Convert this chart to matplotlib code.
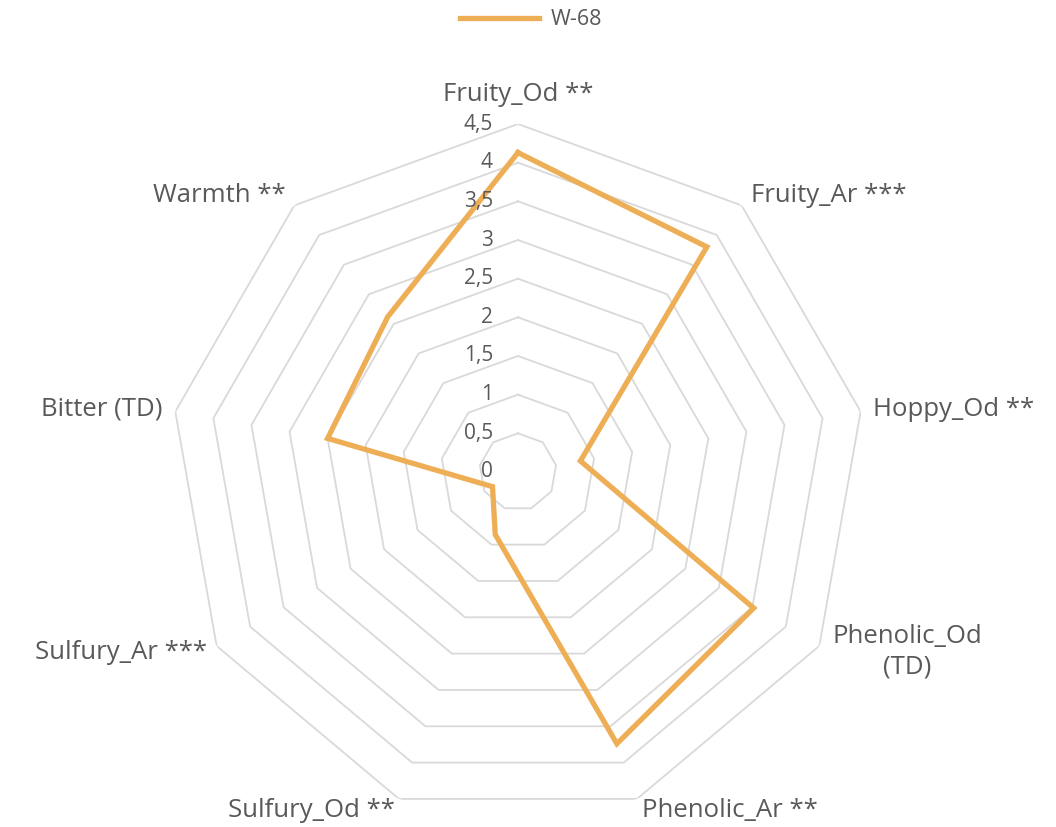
import numpy as np
import matplotlib.pyplot as plt

plt.rcParams["font.family"] = ["Open Sans", "DejaVu Sans"]

# data
categories = ["Fruity_Od **", "Fruity_Ar ***", "Hoppy_Od **", "Phenolic_Od\n(TD)",
              "Phenolic_Ar **", "Sulfury_Od **", "Sulfury_Ar ***", "Bitter (TD)", "Warmth **"]
w68 = [4.13, 3.80, 0.82, 3.52, 3.74, 0.86, 0.38, 2.50, 2.62]
ring_levels = [0.5, 1, 1.5, 2, 2.5, 3, 3.5, 4, 4.5]
tick_labels = ["0", "0,5", "1", "1,5", "2", "2,5", "3", "3,5", "4", "4,5"]

TEXT = "#595959"
GRID = "#d9d9d9"
ORANGE = "#EDAE55"

n = len(categories)
angles = np.linspace(0, 2 * np.pi, n, endpoint=False)
closed = np.append(angles, angles[0])

fig = plt.figure(figsize=(10.56, 8.27), dpi=100)
ax = fig.add_axes([0.161, 0.0085, 0.659, 0.8416], projection="polar")
ax.set_theta_zero_location("N")
ax.set_theta_direction(-1)
ax.set_ylim(0, 4.5)
ax.grid(False)
ax.spines["polar"].set_visible(False)
ax.set_xticks([])
ax.set_yticks([])
ax.patch.set_alpha(0)

# polygon rings only, no spokes
for lvl in ring_levels:
    ax.plot(closed, [lvl] * len(closed), color=GRID, lw=1.3, zorder=1)

vals = w68 + [w68[0]]
ax.plot(closed, vals, color=ORANGE, lw=3.8, label="W-68", zorder=3,
        solid_joinstyle="miter")

# radial tick labels along the top spoke
for i, lab in enumerate(tick_labels):
    ax.annotate(lab, xy=(0, i * 0.5), xytext=(-18, 0), textcoords="offset points",
                ha="right", va="center", fontsize=15, color=TEXT)

# category labels: (dx, dy) in points, alignment
offsets = [(0, 21.5, "center", "center"),
           (7, 7, "left", "center"),
           (8.6, 1.5, "left", "center"),
           (9.4, -4.3, "left", "center"),
           (3.6, -8.5, "left", "center"),
           (-3, -8.5, "right", "center"),
           (-7, -4.5, "right", "center"),
           (-9.4, 1.5, "right", "center"),
           (-6.5, 7, "right", "center")]
for a, lab, (dx, dy, ha, va) in zip(angles, categories, offsets):
    ax.annotate(lab, xy=(a, 4.5), xytext=(dx, dy), textcoords="offset points",
                ha=ha, va=va, fontsize=18.5, color=TEXT, multialignment="center",
                linespacing=1.3)

leg = fig.legend(loc="upper center", bbox_to_anchor=(0.503, 1.012), frameon=False,
                 fontsize=15.5, handlelength=3.7, handletextpad=0.55)
for t in leg.get_texts():
    t.set_color(TEXT)

fig.savefig("out.png", dpi=100)
